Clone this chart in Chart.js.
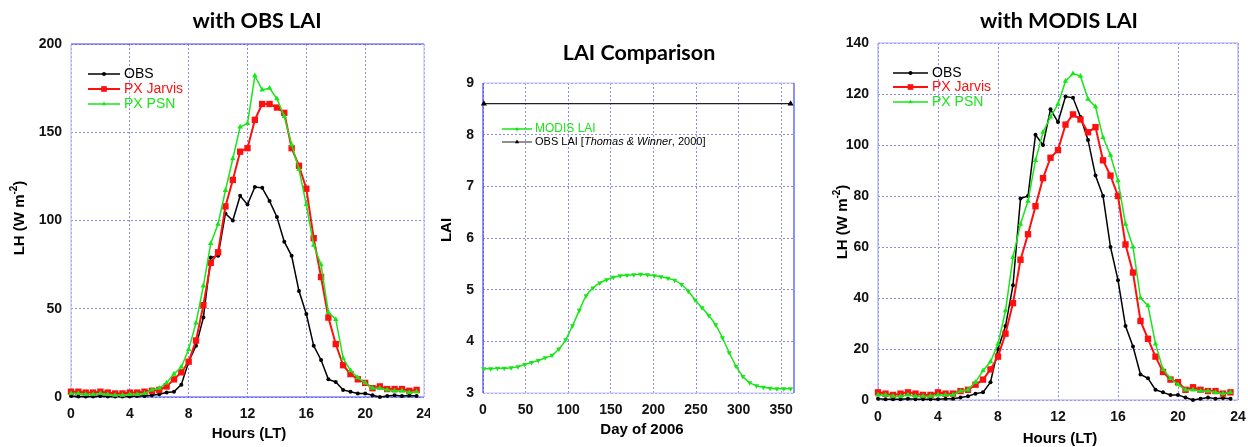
<!DOCTYPE html>
<html>
<head>
<meta charset="utf-8">
<script src="https://cdn.jsdelivr.net/npm/chart.js@4.4.1/dist/chart.umd.min.js"></script>
<style>
  body { margin: 0; background: #fff; }
  .panel { position: absolute; top: 0; height: 447px; }
</style>
</head>
<body>
<div class="panel" style="left:0;width:430px"><canvas id="obsChart"></canvas></div>
<div class="panel" style="left:430px;width:400px"><canvas id="laiChart"></canvas></div>
<div class="panel" style="left:830px;width:418px"><canvas id="modisChart"></canvas></div>
<script>
// half-hourly local time
const hours = [0, 0.5, 1, 1.5, 2, 2.5, 3, 3.5, 4, 4.5, 5, 5.5, 6, 6.5, 7, 7.5,
               8, 8.5, 9, 9.5, 10, 10.5, 11, 11.5, 12, 12.5, 13, 13.5, 14, 14.5, 15, 15.5,
               16, 16.5, 17, 17.5, 18, 18.5, 19, 19.5, 20, 20.5, 21, 21.5, 22, 22.5, 23, 23.5];

// latent heat flux (W m-2)
const lhObs = [0.5, 0.3, 0.3, 0.3, 0.5, 0.3, 0.3, 0.3, 0.3, 0.5, 0.5, 1, 1.5, 2.5, 3, 7,
               20, 29, 45, 79, 80, 104, 100, 114, 109, 119, 118.5, 111, 102, 88, 80, 60,
               47, 29, 21, 10, 8.5, 4, 3, 2, 2, 1, 0, 0.5, 1, 0.5, 0.8, 0.5];

const jarvisObsLai = [3, 3, 2.5, 2.5, 3, 2.5, 2, 2, 2.5, 2.5, 3, 3.5, 4, 6, 10, 14,
                      20, 32, 52, 76, 82, 108, 123, 139, 141, 157, 166, 166, 164, 161, 141, 131,
                      118, 90, 68, 45, 30, 18, 13, 10, 8, 5, 6, 4.5, 4.5, 4.5, 3.5, 4];
const psnObsLai = [2, 2, 1.5, 1.5, 2, 1.5, 1, 1, 1.5, 1.5, 2, 4, 5, 8, 13, 17,
                   27, 42, 63, 87, 98, 117, 135, 153, 155, 182, 174, 175, 169, 159, 143, 129,
                   109, 86, 75, 48, 44, 22, 15, 11, 8, 5, 5, 4, 3.5, 3.5, 2.5, 3];

const jarvisModisLai = [3, 2.5, 2, 2.5, 3, 2.5, 2, 2, 3, 2.5, 2.5, 3.5, 4, 6, 8, 12,
                        17, 26, 38, 55, 65, 76, 87, 95, 98, 108, 112, 110, 105, 107, 94, 88,
                        80, 61, 50, 31, 24, 17, 11, 8, 7, 4, 5, 4, 3.5, 3.5, 2.5, 3];
const psnModisLai = [2, 2, 1.5, 1.5, 2, 1.5, 1.5, 1.5, 2, 2, 2, 3.5, 4, 7, 11.5, 15,
                     22, 35, 56, 69, 78, 94, 105, 111, 116, 125, 128, 127, 118, 115, 103, 96,
                     86, 69, 60, 40, 37, 22, 12, 8.5, 6, 4, 4, 3.5, 3.5, 3, 2.5, 3];

// LAI over the year
const modisDays = [1, 9, 17, 25, 33, 41, 49, 57, 65, 73, 81, 89, 97, 105, 113, 121,
                   129, 137, 145, 153, 161, 169, 177, 185, 193, 201, 209, 217, 225, 233, 241, 249,
                   257, 265, 273, 281, 289, 297, 305, 313, 321, 329, 337, 345, 353, 361];
const modisLai = [3.47, 3.47, 3.48, 3.48, 3.49, 3.51, 3.55, 3.59, 3.63, 3.68, 3.73, 3.85, 4.03, 4.3, 4.6, 4.88,
                  5.03, 5.13, 5.19, 5.24, 5.27, 5.28, 5.29, 5.3, 5.29, 5.27, 5.25, 5.22, 5.18, 5.1, 4.97, 4.8,
                  4.65, 4.5, 4.32, 4.07, 3.78, 3.52, 3.32, 3.2, 3.14, 3.11, 3.09, 3.08, 3.08, 3.08];
const obsLaiDays = [1, 361];
const obsLai = [8.6, 8.6];

const GREEN = '#19e619';
const RED = '#ff1010';
const FONT = 'Liberation Sans, Arial, sans-serif';

function pairs(xs, ys) {
    return xs.map((x, i) => ({ x: x, y: ys[i] }));
}

function fluxSeries(jarvis, psn) {
    return [
        { label: 'OBS', data: pairs(hours, lhObs), borderColor: '#000', backgroundColor: '#000',
          borderWidth: 1.5, pointStyle: 'circle', pointRadius: 2, pointBorderWidth: 0, order: 3 },
        { label: 'PX Jarvis', data: pairs(hours, jarvis), borderColor: RED, backgroundColor: RED,
          borderWidth: 2, pointStyle: 'rect', pointRadius: 4.5, pointBorderWidth: 0, order: 2 },
        { label: 'PX PSN', data: pairs(hours, psn), borderColor: GREEN, backgroundColor: GREEN,
          borderWidth: 1.5, pointStyle: 'triangle', pointRadius: 3.2, pointBorderWidth: 0, order: 1 }
    ];
}

// titles, axis titles, legend and frame drawn by hand
const panelDecor = {
    id: 'panelDecor',
    beforeDatasetsDraw(chart, args, o) {
        const a = chart.chartArea, ctx = chart.ctx;
        const f = o.frame;
        const side = (c, x1, y1, x2, y2) => {
            ctx.strokeStyle = c; ctx.lineWidth = 1.2;
            ctx.beginPath(); ctx.moveTo(x1, y1); ctx.lineTo(x2, y2); ctx.stroke();
        };
        ctx.save();
        side(f.top, a.left, a.top, a.right, a.top);
        side(f.bottom, a.left, a.bottom, a.right, a.bottom);
        side(f.left, a.left, a.top, a.left, a.bottom);
        side(f.right, a.right, a.top, a.right, a.bottom);
        ctx.restore();
    },
    afterDraw(chart, args, o) {
        const ctx = chart.ctx;
        ctx.save();
        ctx.fillStyle = '#000';
        ctx.textBaseline = 'middle';
        ctx.textAlign = 'center';
        ctx.font = 'bold 21.5px Lato, sans-serif';
        ctx.fillText(o.title, o.titleX, o.titleY);

        ctx.font = 'bold 15px ' + FONT;
        ctx.fillText(o.xTitle, o.xTitleX, o.xTitleY);

        // y title, rotated, with optional superscript
        ctx.translate(o.yTitleX, o.yTitleY);
        ctx.rotate(-Math.PI / 2);
        ctx.textAlign = 'left';
        const mainFont = 'bold 15px ' + FONT, supFont = 'bold 10px ' + FONT;
        ctx.font = mainFont;
        const w1 = ctx.measureText(o.yTitle[0]).width;
        const w3 = o.yTitle[2] ? ctx.measureText(o.yTitle[2]).width : 0;
        ctx.font = supFont;
        const w2 = o.yTitle[1] ? ctx.measureText(o.yTitle[1]).width : 0;
        let x = -(w1 + w2 + w3) / 2;
        ctx.font = mainFont;
        ctx.fillText(o.yTitle[0], x, 0);
        if (o.yTitle[1]) {
            ctx.font = supFont;
            ctx.fillText(o.yTitle[1], x + w1, -6);
            ctx.font = mainFont;
            ctx.fillText(o.yTitle[2], x + w1 + w2, 0);
        }
        ctx.restore();

        // legend
        const lg = o.legend;
        ctx.save();
        ctx.textBaseline = 'middle';
        ctx.textAlign = 'left';
        lg.items.forEach(item => {
            const ds = chart.data.datasets[item.dataset];
            ctx.strokeStyle = ds.borderColor;
            ctx.lineWidth = item.lineWidth || 1.5;
            ctx.beginPath();
            ctx.moveTo(lg.x, item.y);
            ctx.lineTo(lg.x + lg.len, item.y);
            ctx.stroke();
            ctx.fillStyle = ds.backgroundColor;
            Chart.helpers.drawPoint(ctx, {
                pointStyle: ds.pointStyle, rotation: ds.pointRotation || 0,
                radius: item.markRadius || 2.5, borderWidth: 0
            }, lg.x + lg.len / 2, item.y);
            ctx.fillStyle = item.color || ds.borderColor;
            let tx = lg.textX;
            const parts = item.parts || [{ text: ds.label }];
            parts.forEach(p => {
                ctx.font = (p.italic ? 'italic ' : '') + item.size + 'px ' + FONT;
                ctx.fillText(p.text, tx, item.y);
                tx += ctx.measureText(p.text).width;
            });
        });
        ctx.restore();
    }
};

function axisOptions(min, max, step, fitSize, isX) {
    return {
        type: 'linear',
        min: min,
        max: max,
        grid: { color: '#8c8cf0', lineWidth: 1, drawTicks: false },
        border: { display: false, dash: [2, 2] },
        ticks: {
            stepSize: step,
            includeBounds: false,
            padding: 9,
            color: '#111',
            font: { family: FONT, weight: 'bold', size: 14 },
            maxRotation: 0
        },
        afterFit(scale) {
            // keep the plot box where the layout padding puts it
            if (isX) {
                scale.height = fitSize;
                scale.paddingLeft = 0;
                scale.paddingRight = 0;
            } else {
                scale.width = fitSize;
                scale.paddingTop = 0;
                scale.paddingBottom = 0;
            }
        }
    };
}

function baseOptions(pad, xAxis, yAxis, decor) {
    return {
        responsive: true,
        maintainAspectRatio: false,
        animation: false,
        layout: { padding: pad },
        plugins: { legend: { display: false }, tooltip: { enabled: false }, panelDecor: decor },
        scales: { x: xAxis, y: yAxis }
    };
}

Chart.register(panelDecor);

// left panel: simulations with observed LAI
new Chart(document.getElementById('obsChart'), {
    type: 'line',
    data: { datasets: fluxSeries(jarvisObsLai, psnObsLai).map(d => Object.assign(d, { clip: false })) },
    options: baseOptions(
        { top: 44, right: 6, left: 0, bottom: 0 },
        axisOptions(0, 24, 4, 50, true),
        axisOptions(0, 200, 50, 71, false),
        {
            title: 'with OBS LAI', titleX: 257, titleY: 21,
            xTitle: 'Hours (LT)', xTitleX: 249, xTitleY: 434,
            yTitle: ['LH (W m', '-2', ')'], yTitleX: 20, yTitleY: 218,
            frame: { top: '#4646ee', bottom: '#4646ee', left: '#c4c4f4', right: '#c4c4f4' },
            legend: {
                x: 88, len: 32, textX: 124,
                items: [
                    { dataset: 0, y: 74, size: 14, markRadius: 2 },
                    { dataset: 1, y: 89, size: 14, markRadius: 4, lineWidth: 2 },
                    { dataset: 2, y: 104, size: 14, markRadius: 2.5 }
                ]
            }
        }
    )
});

// middle panel: LAI comparison
new Chart(document.getElementById('laiChart'), {
    type: 'line',
    data: {
        datasets: [
            { label: 'MODIS LAI', data: pairs(modisDays, modisLai), borderColor: GREEN, backgroundColor: GREEN,
              borderWidth: 1.5, pointStyle: 'triangle', pointRotation: 180, pointRadius: 3, pointBorderWidth: 0,
              cubicInterpolationMode: 'monotone', clip: false },
            { label: 'OBS LAI', data: pairs(obsLaiDays, obsLai), borderColor: '#222', backgroundColor: '#000',
              borderWidth: 1.2, pointStyle: 'triangle', pointRadius: 3.5, pointBorderWidth: 0, clip: false }
        ]
    },
    options: baseOptions(
        { top: 83, right: 36, left: 0, bottom: 0 },
        axisOptions(0, 365, 50, 54, true),
        axisOptions(3, 9, 1, 53, false),
        {
            title: 'LAI Comparison', titleX: 209, titleY: 53,
            xTitle: 'Day of 2006', xTitleX: 212, xTitleY: 430,
            yTitle: ['LAI'], yTitleX: 17, yTitleY: 230,
            frame: { top: '#c4c4f4', bottom: '#c4c4f4', left: '#4646ee', right: '#4646ee' },
            legend: {
                x: 72, len: 30, textX: 105,
                items: [
                    { dataset: 0, y: 129, size: 12, markRadius: 2.5 },
                    { dataset: 1, y: 142, size: 11, markRadius: 2.5, lineWidth: 1, color: '#000',
                      parts: [{ text: 'OBS LAI [' }, { text: 'Thomas & Winner', italic: true }, { text: ', 2000]' }] }
                ]
            }
        }
    )
});

// right panel: simulations with MODIS LAI
new Chart(document.getElementById('modisChart'), {
    type: 'line',
    data: { datasets: fluxSeries(jarvisModisLai, psnModisLai).map(d => Object.assign(d, { clip: false })) },
    options: baseOptions(
        { top: 43, right: 10, left: 0, bottom: 0 },
        axisOptions(0, 24, 4, 47, true),
        axisOptions(0, 140, 20, 48, false),
        {
            title: 'with MODIS LAI', titleX: 229, titleY: 21,
            xTitle: 'Hours (LT)', xTitleX: 230, xTitleY: 439,
            yTitle: ['LH (W m', '-2', ')'], yTitleX: 13, yTitleY: 222,
            frame: { top: '#a8a8f0', bottom: '#a8a8f0', left: '#a8a8f0', right: '#a8a8f0' },
            legend: {
                x: 63, len: 35, textX: 102,
                items: [
                    { dataset: 0, y: 73, size: 14, markRadius: 2 },
                    { dataset: 1, y: 87, size: 14, markRadius: 4, lineWidth: 2 },
                    { dataset: 2, y: 102, size: 14, markRadius: 2.5 }
                ]
            }
        }
    )
});
</script>
</body>
</html>
